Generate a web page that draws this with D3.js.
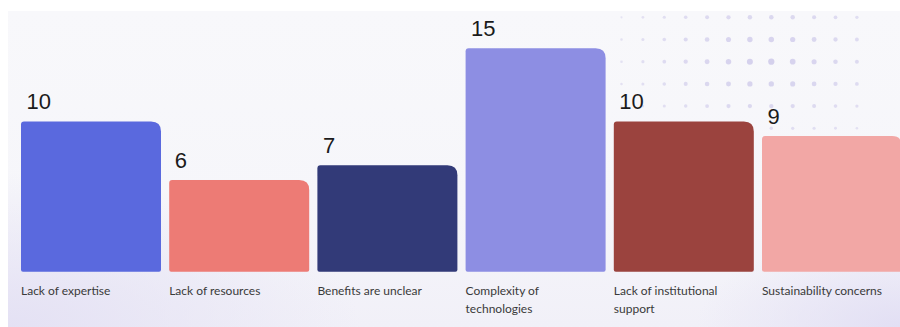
<!DOCTYPE html>
<html>
<head>
<meta charset="utf-8">
<script src="https://cdn.jsdelivr.net/npm/d3@7"></script>
<style>
  html, body { margin: 0; padding: 0; background: #ffffff; }
  #chart { width: 900px; height: 327px; }
</style>
</head>
<body>
<div id="chart"></div>
<script>
// Chart data
const categories = [
  "Lack of expertise",
  "Lack of resources",
  "Benefits are unclear",
  "Complexity of technologies",
  "Lack of institutional support",
  "Sustainability concerns"
];
const counts = [10, 6, 7, 15, 10, 9];
const barColors = ["#5a69de", "#ed7b75", "#323a78", "#8d8ee3", "#9b433e", "#f2a7a5"];

const width = 900, height = 327;

const svg = d3.select("#chart").append("svg")
  .attr("width", width)
  .attr("height", height)
  .style("display", "block");

// --- background panel with soft gradients
const defs = svg.append("defs");

const bgGrad = defs.append("linearGradient")
  .attr("id", "bg").attr("x1", "0").attr("y1", "0").attr("x2", "0").attr("y2", "1");
bgGrad.append("stop").attr("offset", "0%").attr("stop-color", "#f8f8fb");
bgGrad.append("stop").attr("offset", "60%").attr("stop-color", "#f6f6fa");
bgGrad.append("stop").attr("offset", "100%").attr("stop-color", "#f1f0f8");

const glowL = defs.append("radialGradient")
  .attr("id", "glowL").attr("cx", "0").attr("cy", "1").attr("r", "0.75");
glowL.append("stop").attr("offset", "0%").attr("stop-color", "#e4e1f4").attr("stop-opacity", 1);
glowL.append("stop").attr("offset", "100%").attr("stop-color", "#e4e1f4").attr("stop-opacity", 0);

const glowR = defs.append("radialGradient")
  .attr("id", "glowR").attr("cx", "1").attr("cy", "1").attr("r", "0.6");
glowR.append("stop").attr("offset", "0%").attr("stop-color", "#e2dff4").attr("stop-opacity", 1);
glowR.append("stop").attr("offset", "100%").attr("stop-color", "#e2dff4").attr("stop-opacity", 0);

const panel = { x: 8, y: 11, w: 892, h: 316 };
svg.append("rect").attr("x", panel.x).attr("y", panel.y)
  .attr("width", panel.w).attr("height", panel.h).attr("fill", "url(#bg)");
svg.append("rect").attr("x", panel.x).attr("y", panel.y + 110)
  .attr("width", 470).attr("height", panel.h - 110).attr("fill", "url(#glowL)");
svg.append("rect").attr("x", 560).attr("y", panel.y + 160)
  .attr("width", 340).attr("height", panel.h - 160).attr("fill", "url(#glowR)");

// decorative dot grid, top right
const dots = svg.append("g");
const dotCx = 765, dotCy = 60;
for (let r = 0; r < 6; r++) {
  for (let c = 0; c < 12; c++) {
    const px = 621.5 + c * 21.4, py = 17.3 + r * 22.2;
    const d = Math.hypot((px - dotCx) / 150, (py - dotCy) / 90);
    const rad = Math.max(0.8, 3.2 * (1 - d * 0.62));
    dots.append("circle")
      .attr("cx", px).attr("cy", py).attr("r", rad)
      .attr("fill", "#d3cfec")
      .attr("opacity", Math.max(0.35, 1 - d * 0.45));
  }
}

// --- scales
const x = d3.scaleBand()
  .domain(categories)
  .range([21, 902])
  .paddingInner(0.0553)
  .paddingOuter(0);

const y = d3.scaleLinear()
  .domain([0, 15])
  .range([267.8, 48.3]);

const barBottom = 271.7;

// bar shape: small radius on left, bigger on top right
function barPath(x0, y0, w, h) {
  const tl = 3, tr = 10, br = 2, bl = 2;
  return `M${x0},${y0 + tl}
    Q${x0},${y0} ${x0 + tl},${y0}
    L${x0 + w - tr},${y0}
    Q${x0 + w},${y0} ${x0 + w},${y0 + tr}
    L${x0 + w},${y0 + h - br}
    Q${x0 + w},${y0 + h} ${x0 + w - br},${y0 + h}
    L${x0 + bl},${y0 + h}
    Q${x0},${y0 + h} ${x0},${y0 + h - bl}Z`;
}

const barData = categories.map((c, i) => ({ cat: c, value: counts[i], color: barColors[i] }));

svg.append("g").selectAll("path")
  .data(barData)
  .join("path")
  .attr("d", d => barPath(x(d.cat), y(d.value), x.bandwidth(), barBottom - y(d.value)))
  .attr("fill", d => d.color);

// value labels
svg.append("g").selectAll("text")
  .data(barData)
  .join("text")
  .attr("x", d => x(d.cat) + 5.5)
  .attr("y", d => y(d.value) - 12.5)
  .text(d => d.value)
  .attr("fill", "#1b1b1b")
  .style("font-family", "'Liberation Sans', Arial, sans-serif")
  .style("font-size", "22px");

// category labels, wrapped to bar width
const labels = svg.append("g").selectAll("text")
  .data(barData)
  .join("text")
  .attr("x", d => x(d.cat))
  .attr("y", 295)
  .attr("fill", "#3a3a3a")
  .style("font-family", "Lato, sans-serif")
  .style("font-size", "12px");

labels.each(function (d) {
  const t = d3.select(this);
  const words = d.cat.split(" ");
  let line = [];
  let tspan = t.append("tspan").attr("x", x(d.cat)).attr("dy", 0);
  words.forEach(wd => {
    line.push(wd);
    tspan.text(line.join(" "));
    if (tspan.node().getComputedTextLength() > 130 && line.length > 1) {
      line.pop();
      tspan.text(line.join(" "));
      line = [wd];
      tspan = t.append("tspan").attr("x", x(d.cat)).attr("dy", 18).text(wd);
    }
  });
});
</script>
</body>
</html>
